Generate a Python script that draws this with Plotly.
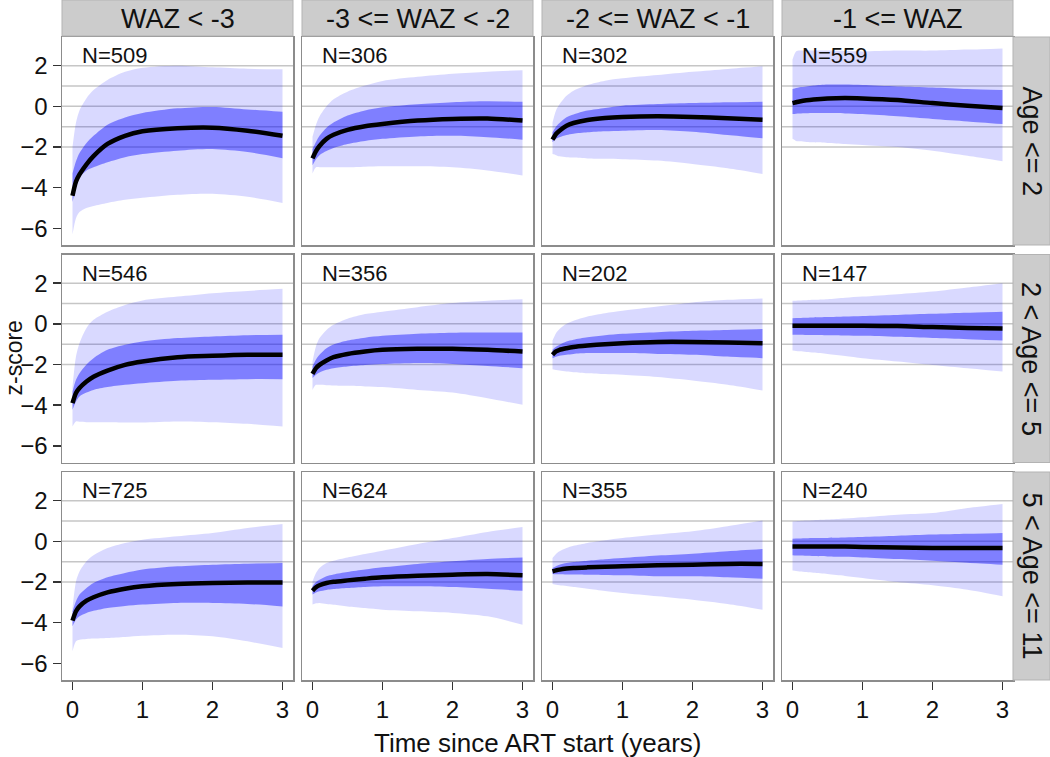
import plotly.graph_objects as go
from plotly.subplots import make_subplots

# ---------------- data ----------------
T = [0, 0.05, 0.1, 0.2, 0.3, 0.5, 0.75, 1, 1.5, 2, 2.5, 3]

col_labels = ["WAZ < -3", "-3 <= WAZ < -2", "-2 <= WAZ < -1", "-1 <= WAZ"]
row_labels = ["Age <= 2", "2 < Age <= 5", "5 < Age <= 11"]
n_row1 = [509, 306, 302, 559]
n_row2 = [546, 356, 202, 147]
n_row3 = [725, 624, 355, 240]
x_ticks = [0, 1, 2, 3]
y_ticks = [-6, -4, -2, 0, 2]
ref_lines = [-2, -1, 0, 1, 2]

# Row 1 (Age <= 2)
p11_med = [-4.4, -3.7, -3.35, -2.85, -2.45, -1.85, -1.45, -1.23, -1.08, -1.05, -1.2, -1.45]
p11_q75 = [-3.3, -2.7, -2.3, -1.8, -1.45, -0.9, -0.55, -0.33, -0.1, -0.03, -0.15, -0.27]
p11_q25 = [-4.7, -4.0, -3.5, -3.15, -3.0, -2.75, -2.5, -2.35, -2.18, -2.1, -2.25, -2.55]
p11_q95 = [-2.0, -0.8, -0.2, 0.4, 0.8, 1.3, 1.7, 1.9, 2.0, 1.92, 1.85, 1.82]
p11_q05 = [-6.3, -5.5, -5.2, -5.0, -4.9, -4.75, -4.6, -4.5, -4.35, -4.3, -4.45, -4.75]

p12_med = [-2.56, -2.2, -1.95, -1.6, -1.4, -1.16, -0.98, -0.87, -0.7, -0.62, -0.6, -0.7]
p12_q75 = [-2.1, -1.75, -1.45, -1.05, -0.8, -0.45, -0.2, -0.05, 0.1, 0.2, 0.25, 0.22]
p12_q25 = [-2.9, -2.6, -2.4, -2.2, -2.05, -1.85, -1.7, -1.6, -1.48, -1.45, -1.52, -1.64]
p12_q95 = [-1.5, -0.9, -0.5, 0.0, 0.35, 0.72, 1.02, 1.25, 1.45, 1.6, 1.7, 1.78]
p12_q05 = [-3.3, -3.0, -3.0, -3.0, -3.0, -3.0, -2.97, -2.95, -2.95, -3.0, -3.15, -3.4]

p13_med = [-1.64, -1.36, -1.2, -0.95, -0.82, -0.67, -0.57, -0.52, -0.49, -0.52, -0.59, -0.66]
p13_q75 = [-1.28, -1.0, -0.82, -0.54, -0.4, -0.21, -0.08, 0.03, 0.11, 0.16, 0.2, 0.23]
p13_q25 = [-1.77, -1.6, -1.52, -1.41, -1.35, -1.28, -1.23, -1.2, -1.16, -1.25, -1.41, -1.57]
p13_q95 = [-0.8, -0.2, 0.1, 0.52, 0.77, 1.05, 1.26, 1.38, 1.54, 1.7, 1.84, 1.97]
p13_q05 = [-2.35, -2.4, -2.46, -2.5, -2.52, -2.56, -2.58, -2.6, -2.67, -2.84, -3.05, -3.33]

p14_med = [0.16, 0.2, 0.24, 0.3, 0.34, 0.39, 0.41, 0.39, 0.31, 0.16, 0.03, -0.08]
p14_q75 = [0.85, 0.9, 0.94, 0.98, 1.02, 1.07, 1.07, 1.05, 0.98, 0.93, 0.85, 0.8]
p14_q25 = [-0.38, -0.36, -0.35, -0.34, -0.33, -0.33, -0.35, -0.38, -0.49, -0.62, -0.74, -0.87]
p14_q95 = [2.3, 2.7, 2.74, 2.74, 2.74, 2.74, 2.72, 2.7, 2.74, 2.74, 2.79, 2.85]
p14_q05 = [-1.6, -1.7, -1.72, -1.75, -1.77, -1.8, -1.85, -1.9, -2.0, -2.18, -2.43, -2.7]

# Row 2 (2 < Age <= 5)
p21_med = [-3.9, -3.4, -3.16, -2.84, -2.6, -2.3, -2.02, -1.85, -1.64, -1.57, -1.52, -1.52]
p21_q75 = [-3.33, -2.75, -2.43, -2.0, -1.69, -1.28, -1.03, -0.87, -0.7, -0.62, -0.56, -0.54]
p21_q25 = [-4.23, -3.82, -3.57, -3.38, -3.25, -3.11, -3.0, -2.92, -2.8, -2.75, -2.72, -2.72]
p21_q95 = [-3.1, -1.6, -0.95, -0.2, 0.2, 0.6, 0.93, 1.15, 1.34, 1.51, 1.62, 1.72]
p21_q05 = [-5.05, -4.8, -4.82, -4.84, -4.84, -4.84, -4.85, -4.85, -4.8, -4.84, -4.92, -5.05]

p22_med = [-2.46, -2.18, -2.02, -1.8, -1.64, -1.48, -1.36, -1.28, -1.23, -1.23, -1.28, -1.36]
p22_q75 = [-2.1, -1.75, -1.52, -1.2, -1.02, -0.82, -0.68, -0.59, -0.49, -0.44, -0.43, -0.43]
p22_q25 = [-2.67, -2.5, -2.39, -2.26, -2.18, -2.1, -2.03, -1.98, -1.93, -1.97, -2.07, -2.18]
p22_q95 = [-1.85, -1.1, -0.7, -0.3, -0.05, 0.25, 0.48, 0.6, 0.82, 1.02, 1.13, 1.21]
p22_q05 = [-3.25, -3.0, -3.0, -3.02, -3.03, -3.05, -3.08, -3.11, -3.25, -3.38, -3.66, -3.98]

p23_med = [-1.52, -1.36, -1.28, -1.2, -1.14, -1.07, -1.0, -0.95, -0.89, -0.89, -0.92, -0.95]
p23_q75 = [-1.28, -1.13, -1.03, -0.87, -0.78, -0.66, -0.56, -0.49, -0.41, -0.34, -0.3, -0.26]
p23_q25 = [-1.69, -1.62, -1.57, -1.52, -1.48, -1.44, -1.44, -1.44, -1.48, -1.52, -1.61, -1.69]
p23_q95 = [-0.82, -0.46, -0.26, 0.0, 0.15, 0.36, 0.52, 0.64, 0.85, 1.05, 1.18, 1.25]
p23_q05 = [-2.23, -2.27, -2.3, -2.35, -2.38, -2.43, -2.47, -2.51, -2.62, -2.79, -3.0, -3.28]

p24_med = [-0.1, -0.1, -0.1, -0.1, -0.1, -0.1, -0.1, -0.1, -0.11, -0.16, -0.2, -0.23]
p24_q75 = [0.28, 0.29, 0.29, 0.3, 0.31, 0.33, 0.36, 0.39, 0.44, 0.49, 0.54, 0.59]
p24_q25 = [-0.54, -0.54, -0.54, -0.55, -0.55, -0.56, -0.57, -0.59, -0.64, -0.7, -0.76, -0.82]
p24_q95 = [1.13, 1.14, 1.15, 1.16, 1.18, 1.21, 1.28, 1.34, 1.46, 1.59, 1.79, 2.0]
p24_q05 = [-1.31, -1.33, -1.35, -1.38, -1.41, -1.48, -1.58, -1.69, -1.85, -2.02, -2.18, -2.34]

# Row 3 (5 < Age <= 11)
p31_med = [-3.9, -3.44, -3.2, -2.92, -2.75, -2.51, -2.33, -2.21, -2.1, -2.05, -2.03, -2.03]
p31_q75 = [-3.44, -2.95, -2.62, -2.3, -2.05, -1.77, -1.56, -1.39, -1.23, -1.15, -1.1, -1.07]
p31_q25 = [-4.18, -3.85, -3.69, -3.52, -3.42, -3.28, -3.18, -3.11, -3.03, -3.03, -3.08, -3.2]
p31_q95 = [-3.28, -1.97, -1.48, -0.98, -0.69, -0.33, -0.08, 0.08, 0.25, 0.41, 0.66, 0.85]
p31_q05 = [-5.4, -4.92, -4.84, -4.8, -4.78, -4.75, -4.7, -4.64, -4.59, -4.67, -4.92, -5.25]

p32_med = [-2.43, -2.26, -2.16, -2.05, -1.99, -1.92, -1.84, -1.77, -1.69, -1.64, -1.61, -1.67]
p32_q75 = [-2.21, -2.0, -1.89, -1.72, -1.63, -1.51, -1.39, -1.28, -1.11, -0.98, -0.87, -0.79]
p32_q25 = [-2.62, -2.52, -2.46, -2.39, -2.35, -2.3, -2.25, -2.21, -2.21, -2.25, -2.33, -2.43]
p32_q95 = [-1.97, -1.56, -1.31, -1.07, -0.95, -0.79, -0.62, -0.46, -0.13, 0.16, 0.46, 0.7]
p32_q05 = [-3.11, -3.05, -3.03, -3.08, -3.12, -3.2, -3.28, -3.36, -3.44, -3.52, -3.69, -4.1]

p33_med = [-1.48, -1.43, -1.39, -1.34, -1.31, -1.28, -1.25, -1.23, -1.18, -1.15, -1.11, -1.11]
p33_q75 = [-1.31, -1.22, -1.15, -1.07, -1.02, -0.95, -0.88, -0.82, -0.7, -0.61, -0.49, -0.38]
p33_q25 = [-1.61, -1.62, -1.62, -1.63, -1.63, -1.64, -1.65, -1.67, -1.72, -1.72, -1.77, -1.84]
p33_q95 = [-0.82, -0.62, -0.49, -0.33, -0.22, -0.08, 0.05, 0.16, 0.33, 0.49, 0.74, 1.02]
p33_q05 = [-2.1, -2.13, -2.16, -2.2, -2.25, -2.33, -2.44, -2.54, -2.7, -2.87, -3.08, -3.36]

p34_med = [-0.25, -0.25, -0.25, -0.25, -0.25, -0.25, -0.26, -0.28, -0.3, -0.33, -0.33, -0.33]
p34_q75 = [0.13, 0.14, 0.14, 0.15, 0.16, 0.17, 0.19, 0.21, 0.27, 0.33, 0.37, 0.41]
p34_q25 = [-0.69, -0.7, -0.7, -0.71, -0.72, -0.74, -0.76, -0.79, -0.87, -0.95, -1.05, -1.15]
p34_q95 = [0.98, 0.99, 1.0, 1.02, 1.04, 1.07, 1.12, 1.18, 1.31, 1.39, 1.64, 1.84]
p34_q05 = [-1.44, -1.46, -1.48, -1.51, -1.55, -1.61, -1.7, -1.8, -2.0, -2.16, -2.38, -2.7]

panels = [
    [(p11_q05, p11_q25, p11_med, p11_q75, p11_q95), (p12_q05, p12_q25, p12_med, p12_q75, p12_q95),
     (p13_q05, p13_q25, p13_med, p13_q75, p13_q95), (p14_q05, p14_q25, p14_med, p14_q75, p14_q95)],
    [(p21_q05, p21_q25, p21_med, p21_q75, p21_q95), (p22_q05, p22_q25, p22_med, p22_q75, p22_q95),
     (p23_q05, p23_q25, p23_med, p23_q75, p23_q95), (p24_q05, p24_q25, p24_med, p24_q75, p24_q95)],
    [(p31_q05, p31_q25, p31_med, p31_q75, p31_q95), (p32_q05, p32_q25, p32_med, p32_q75, p32_q95),
     (p33_q05, p33_q25, p33_med, p33_q75, p33_q95), (p34_q05, p34_q25, p34_med, p34_q75, p34_q95)],
]
n_labels = [n_row1, n_row2, n_row3]

# ---------------- layout geometry (pixels) ----------------
W, H = 1050, 757
col_left = [62, 302, 542, 782]
panel_w = 231
row_top = [37, 254.5, 472]
panel_h = 208
strip_top_h = 36
strip_right_w = 37

FONT = "Liberation Sans, Arial, sans-serif"
LIGHT = "rgba(0,0,255,0.15)"
DARK = "rgba(0,0,255,0.41)"

fig = make_subplots(rows=3, cols=4)


def px_x(p):
    return p / W


def px_y(p):
    return 1 - p / H


shapes = []
annotations = []

for r in range(3):
    for c in range(4):
        idx = r * 4 + c + 1
        xa = "x" if idx == 1 else f"x{idx}"
        ya = "y" if idx == 1 else f"y{idx}"
        q05, q25, med, q75, q95 = panels[r][c]
        line_kw = dict(shape="spline", smoothing=0.8, width=0)
        fig.add_trace(go.Scatter(x=T, y=q05, mode="lines", line=dict(color="rgba(0,0,0,0)", **line_kw),
                                 hoverinfo="skip", showlegend=False), row=r + 1, col=c + 1)
        fig.add_trace(go.Scatter(x=T, y=q95, mode="lines", fill="tonexty", fillcolor=LIGHT,
                                 line=dict(color="rgba(0,0,0,0)", **line_kw),
                                 hoverinfo="skip", showlegend=False), row=r + 1, col=c + 1)
        fig.add_trace(go.Scatter(x=T, y=q25, mode="lines", line=dict(color="rgba(0,0,0,0)", **line_kw),
                                 hoverinfo="skip", showlegend=False), row=r + 1, col=c + 1)
        fig.add_trace(go.Scatter(x=T, y=q75, mode="lines", fill="tonexty", fillcolor=DARK,
                                 line=dict(color="rgba(0,0,0,0)", **line_kw),
                                 hoverinfo="skip", showlegend=False), row=r + 1, col=c + 1)
        fig.add_trace(go.Scatter(x=T, y=med, mode="lines",
                                 line=dict(color="black", width=4.5, shape="spline", smoothing=0.8),
                                 showlegend=False), row=r + 1, col=c + 1)

        x0 = col_left[c]
        y0 = row_top[r]
        xd = [px_x(x0), px_x(x0 + panel_w)]
        yd = [px_y(y0 + panel_h), px_y(y0)]
        fig.update_xaxes(domain=xd, range=[-0.15, 3.15], tickvals=x_ticks,
                         showticklabels=(r == 2), ticks="outside" if r == 2 else "",
                         ticklen=8, tickwidth=1.5, tickcolor="#333333",
                         showgrid=False, zeroline=False, showline=True, mirror=True,
                         linecolor="#8c8c8c", linewidth=1.5, fixedrange=True,
                         tickfont=dict(family=FONT, size=24, color="#111111"),
                         row=r + 1, col=c + 1)
        fig.update_yaxes(domain=yd, range=[-6.82, 3.41], tickvals=y_ticks,
                         showticklabels=(c == 0), ticks="outside" if c == 0 else "",
                         ticklen=8, tickwidth=1.5, tickcolor="#333333",
                         showgrid=False, zeroline=False, showline=True, mirror=True,
                         linecolor="#8c8c8c", linewidth=1.5, fixedrange=True,
                         tickfont=dict(family=FONT, size=24, color="#111111"),
                         row=r + 1, col=c + 1)
        for v in ref_lines:
            shapes.append(dict(type="line", xref=f"{xa} domain", yref=ya, x0=0, x1=1, y0=v, y1=v,
                               line=dict(color="#c6c6c6", width=1.5), layer="below"))
        annotations.append(dict(text=f"N={n_labels[r][c]}", xref=xa, yref=ya, x=0.11, y=2.5,
                                xanchor="left", yanchor="middle", showarrow=False,
                                font=dict(family=FONT, size=22, color="#111111")))

# column strips
for c in range(4):
    x0 = col_left[c]
    shapes.append(dict(type="rect", xref="paper", yref="paper",
                       x0=px_x(x0), x1=px_x(x0 + panel_w), y0=px_y(strip_top_h), y1=px_y(0),
                       fillcolor="#cccccc", line=dict(color="#b3b3b3", width=1), layer="above"))
    annotations.append(dict(text=col_labels[c], xref="paper", yref="paper",
                            x=px_x(x0 + panel_w / 2), y=px_y(strip_top_h / 2 + 1),
                            xanchor="center", yanchor="middle", showarrow=False,
                            font=dict(family=FONT, size=27, color="#111111")))
# row strips
for r in range(3):
    y0 = row_top[r]
    xs = col_left[3] + panel_w
    shapes.append(dict(type="rect", xref="paper", yref="paper",
                       x0=px_x(xs), x1=px_x(xs + strip_right_w), y0=px_y(y0 + panel_h), y1=px_y(y0),
                       fillcolor="#cccccc", line=dict(color="#b3b3b3", width=1), layer="above"))
    annotations.append(dict(text=row_labels[r], xref="paper", yref="paper",
                            x=px_x(xs + strip_right_w / 2), y=px_y(y0 + panel_h / 2),
                            xanchor="center", yanchor="middle", showarrow=False, textangle=90,
                            font=dict(family=FONT, size=27, color="#111111")))

# axis titles
annotations.append(dict(text="Time since ART start (years)", xref="paper", yref="paper",
                        x=px_x((col_left[0] + col_left[3] + panel_w) / 2), y=px_y(743),
                        xanchor="center", yanchor="middle", showarrow=False,
                        font=dict(family=FONT, size=26, color="#111111")))
annotations.append(dict(text="z-score", xref="paper", yref="paper",
                        x=px_x(13), y=px_y((row_top[0] + row_top[2] + panel_h) / 2),
                        xanchor="center", yanchor="middle", showarrow=False, textangle=-90,
                        font=dict(family=FONT, size=23, color="#111111")))

fig.update_layout(width=W, height=H, margin=dict(l=0, r=0, t=0, b=0),
                  paper_bgcolor="white", plot_bgcolor="white",
                  shapes=shapes, annotations=annotations, showlegend=False,
                  hovermode=False, font=dict(family=FONT))

fig.write_html("out.html", config={"displayModeBar": False, "staticPlot": True},
               post_script="document.body.style.margin='0';document.body.style.overflow='hidden';")
